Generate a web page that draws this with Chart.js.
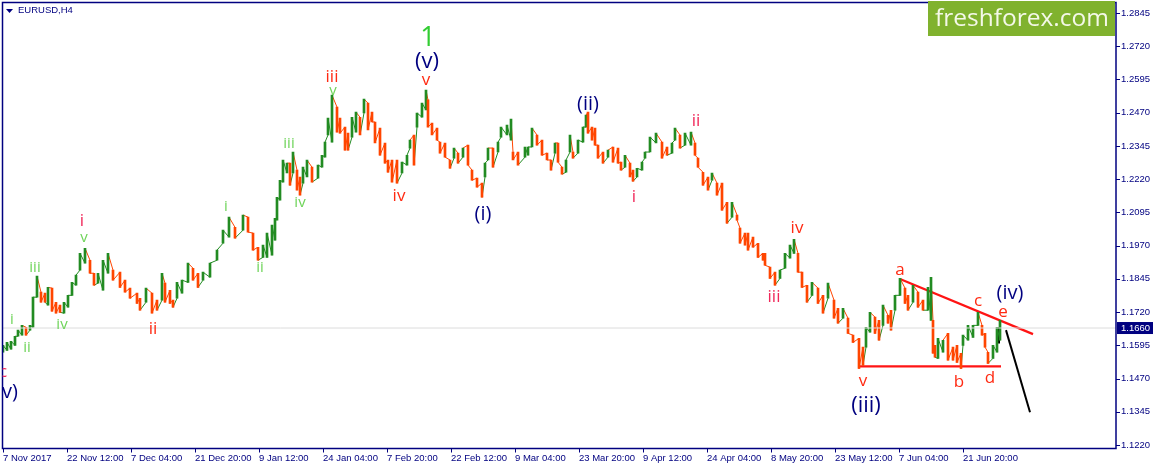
<!DOCTYPE html>
<html>
<head>
<meta charset="utf-8">
<title>EURUSD,H4</title>
<script src="https://cdn.jsdelivr.net/npm/chart.js@4/dist/chart.umd.js"></script>
<style>
  html, body { margin: 0; padding: 0; background: #fff; }
  #wrap { position: relative; width: 1155px; height: 469px; }
</style>
</head>
<body>
<div id="wrap"><canvas id="chart" width="1155" height="469"></canvas></div>
<script>
const priceTicks = [1.2845, 1.2720, 1.2595, 1.2470, 1.2345, 1.2220, 1.2095, 1.1970, 1.1845, 1.1720, 1.1595, 1.1470, 1.1345, 1.1220];
const timeTickBars = [0, 64, 128, 192, 256, 320, 384, 448, 512, 576, 640, 704, 768, 832, 896, 960];
const timeTickLabels = ['7 Nov 2017', '22 Nov 12:00', '7 Dec 04:00', '21 Dec 20:00', '9 Jan 12:00', '24 Jan 04:00', '7 Feb 20:00', '22 Feb 12:00', '9 Mar 04:00', '23 Mar 20:00', '9 Apr 12:00', '24 Apr 04:00', '8 May 20:00', '23 May 12:00', '7 Jun 04:00', '21 Jun 20:00'];

const barIndex = [
  0, 4, 8, 12, 15, 19, 23, 27, 30, 34, 38, 42, 45, 49, 53, 57, 61, 65, 69, 73,
  77, 82, 87, 91, 95, 100, 105, 110, 117, 122, 127, 134, 137, 143, 149, 154, 159, 162, 167, 170,
  174, 179, 185, 190, 195, 200, 207, 214, 220, 226, 232, 240, 245, 250, 255, 260, 264, 269, 272, 274,
  277, 280, 284, 287, 290, 294, 297, 300, 304, 309, 315, 319, 322, 325, 329, 334, 337, 342, 345, 349,
  353, 357, 361, 365, 369, 372, 377, 382, 385, 389, 394, 399, 404, 407, 411, 414, 419, 423, 425, 429,
  434, 437, 442, 447, 451, 455, 460, 465, 469, 474, 479, 482, 485, 490, 495, 498, 504, 508, 510, 515,
  522, 525, 529, 534, 539, 544, 548, 552, 555, 559, 563, 567, 570, 575, 580, 583, 585, 589, 592, 595,
  600, 605, 610, 615, 618, 622, 627, 630, 634, 639, 642, 647, 653, 659, 664, 669, 672, 677, 682, 688,
  692, 695, 700, 705, 709, 714, 719, 724, 729, 734, 737, 742, 745, 750, 755, 760, 762, 767, 772, 777,
  782, 787, 791, 795, 799, 804, 809, 815, 820, 825, 831, 835, 840, 845, 850, 856, 860, 863, 867, 872,
  876, 880, 885, 888, 892, 897, 902, 905, 910, 915, 920, 925, 928, 930, 932, 935, 940, 945, 950, 954,
  958, 960, 965, 970, 975, 979, 982, 985, 990, 994, 997
];
const barHigh = [
  1.1595, 1.1606, 1.1610, 1.1629, 1.1652, 1.1670, 1.1663, 1.1670, 1.1776, 1.1855, 1.1795, 1.1791, 1.1813, 1.1810, 1.1757, 1.1746, 1.1757, 1.1783, 1.1832, 1.1859,
  1.1941, 1.1960, 1.1915, 1.1866, 1.1866, 1.1915, 1.1941, 1.1878, 1.1870, 1.1840, 1.1810, 1.1791, 1.1772, 1.1810, 1.1791, 1.1765, 1.1866, 1.1829, 1.1802, 1.1765,
  1.1832, 1.1840, 1.1904, 1.1885, 1.1866, 1.1870, 1.1904, 1.1953, 1.2028, 1.2077, 1.2039, 1.2085, 1.2077, 1.2017, 1.1964, 1.1972, 1.2017, 1.2047, 1.2073, 1.2152,
  1.2216, 1.2292, 1.2280, 1.2280, 1.2322, 1.2254, 1.2228, 1.2265, 1.2292, 1.2265, 1.2273, 1.2310, 1.2359, 1.2450, 1.2536, 1.2491, 1.2450, 1.2416, 1.2393, 1.2453,
  1.2472, 1.2453, 1.2521, 1.2506, 1.2472, 1.2435, 1.2412, 1.2356, 1.2292, 1.2292, 1.2292, 1.2284, 1.2310, 1.2367, 1.2386, 1.2469, 1.2506, 1.2555, 1.2518, 1.2431,
  1.2412, 1.2359, 1.2356, 1.2292, 1.2337, 1.2318, 1.2337, 1.2348, 1.2254, 1.2224, 1.2205, 1.2280, 1.2337, 1.2337, 1.2359, 1.2416, 1.2423, 1.2446, 1.2322, 1.2322,
  1.2341, 1.2341, 1.2412, 1.2386, 1.2367, 1.2318, 1.2292, 1.2356, 1.2356, 1.2265, 1.2292, 1.2386, 1.2322, 1.2367, 1.2416, 1.2461, 1.2472, 1.2416, 1.2412, 1.2348,
  1.2322, 1.2329, 1.2341, 1.2337, 1.2284, 1.2310, 1.2280, 1.2254, 1.2261, 1.2284, 1.2322, 1.2378, 1.2393, 1.2359, 1.2341, 1.2356, 1.2412, 1.2386, 1.2393, 1.2397,
  1.2356, 1.2299, 1.2246, 1.2228, 1.2243, 1.2205, 1.2205, 1.2133, 1.2133, 1.2085, 1.2036, 1.2017, 1.2017, 1.2002, 1.1979, 1.1941, 1.1941, 1.1889, 1.1870, 1.1878,
  1.1941, 1.1972, 1.1994, 1.1941, 1.1870, 1.1821, 1.1832, 1.1810, 1.1783, 1.1829, 1.1765, 1.1734, 1.1734, 1.1697, 1.1633, 1.1621, 1.1588, 1.1663, 1.1719, 1.1701,
  1.1689, 1.1746, 1.1708, 1.1727, 1.1783, 1.1847, 1.1810, 1.1783, 1.1821, 1.1795, 1.1765, 1.1813, 1.1851, 1.1689, 1.1595, 1.1621, 1.1614, 1.1640, 1.1588, 1.1595,
  1.1565, 1.1633, 1.1670, 1.1670, 1.1719, 1.1670, 1.1640, 1.1569, 1.1595, 1.1663, 1.1689
];
const barLow = [
  1.1569, 1.1576, 1.1580, 1.1595, 1.1629, 1.1633, 1.1633, 1.1652, 1.1663, 1.1776, 1.1757, 1.1757, 1.1746, 1.1723, 1.1716, 1.1719, 1.1716, 1.1738, 1.1783, 1.1821,
  1.1878, 1.1904, 1.1866, 1.1821, 1.1829, 1.1802, 1.1866, 1.1840, 1.1813, 1.1795, 1.1772, 1.1753, 1.1727, 1.1757, 1.1716, 1.1727, 1.1765, 1.1757, 1.1753, 1.1738,
  1.1772, 1.1791, 1.1832, 1.1840, 1.1813, 1.1840, 1.1851, 1.1915, 1.1979, 1.2002, 1.1998, 1.2028, 1.2021, 1.1953, 1.1915, 1.1926, 1.1926, 1.1934, 1.1990, 1.2066,
  1.2141, 1.2209, 1.2243, 1.2197, 1.2243, 1.2179, 1.2160, 1.2205, 1.2228, 1.2209, 1.2224, 1.2265, 1.2303, 1.2386, 1.2359, 1.2397, 1.2393, 1.2329, 1.2329, 1.2378,
  1.2397, 1.2386, 1.2469, 1.2405, 1.2435, 1.2356, 1.2310, 1.2280, 1.2246, 1.2209, 1.2205, 1.2243, 1.2273, 1.2337, 1.2273, 1.2416, 1.2453, 1.2480, 1.2416, 1.2386,
  1.2367, 1.2318, 1.2303, 1.2261, 1.2299, 1.2280, 1.2303, 1.2273, 1.2216, 1.2190, 1.2152, 1.2228, 1.2292, 1.2265, 1.2322, 1.2378, 1.2386, 1.2367, 1.2292, 1.2273,
  1.2303, 1.2310, 1.2341, 1.2348, 1.2310, 1.2292, 1.2254, 1.2318, 1.2284, 1.2239, 1.2246, 1.2322, 1.2299, 1.2318, 1.2359, 1.2416, 1.2393, 1.2367, 1.2348, 1.2299,
  1.2280, 1.2303, 1.2284, 1.2280, 1.2254, 1.2265, 1.2228, 1.2212, 1.2228, 1.2254, 1.2299, 1.2322, 1.2356, 1.2299, 1.2310, 1.2318, 1.2367, 1.2337, 1.2348, 1.2348,
  1.2310, 1.2265, 1.2197, 1.2179, 1.2216, 1.2160, 1.2103, 1.2054, 1.2077, 1.2066, 1.1979, 1.1972, 1.1953, 1.1964, 1.1926, 1.1915, 1.1896, 1.1847, 1.1821, 1.1847,
  1.1885, 1.1923, 1.1941, 1.1870, 1.1813, 1.1757, 1.1783, 1.1753, 1.1716, 1.1772, 1.1697, 1.1678, 1.1697, 1.1640, 1.1606, 1.1508, 1.1520, 1.1588, 1.1644, 1.1640,
  1.1614, 1.1670, 1.1678, 1.1652, 1.1727, 1.1783, 1.1753, 1.1727, 1.1757, 1.1738, 1.1727, 1.1727, 1.1689, 1.1565, 1.1550, 1.1546, 1.1569, 1.1539, 1.1539, 1.1531,
  1.1508, 1.1595, 1.1614, 1.1625, 1.1670, 1.1633, 1.1588, 1.1527, 1.1546, 1.1569, 1.1614
];

const lastPrice = 1.1660;
const lastBarBar = [996, 996];
const lastBarPrice = [1.1663, 1.1602];
const resistanceBars = [897, 1030];
const resistancePrices = [1.1844, 1.1637];
const supportBars = [855, 998];
const supportPrices = [1.1516, 1.1516];
const forecastBars = [1003, 1027];
const forecastPrices = [1.1652, 1.1343];

const waveLabels = [
  ['1', 425, 1.2751, 'top'], ['(v)', 424, 1.2661, 'navyBig'], ['v', 423, 1.2593, 'red'],
  ['iii', 329, 1.2604, 'red'], ['v', 330, 1.2551, 'green'], ['(ii)', 585, 1.2502, 'navy'],
  ['ii', 693, 1.2438, 'pink'], ['iii', 286, 1.2352, 'green'], ['iv', 297, 1.2130, 'green'],
  ['i', 223, 1.2118, 'green'], ['i', 79, 1.2062, 'pink'], ['v', 81, 1.1998, 'green'],
  ['iii', 32, 1.1885, 'green'], ['i', 9, 1.1693, 'green'], ['ii', 24, 1.1584, 'green'],
  ['iv', 59, 1.1674, 'green'], ['ii', 150, 1.1655, 'red'], ['ii', 257, 1.1885, 'green'],
  ['iv', 396, 1.2156, 'red'], ['(i)', 480, 1.2088, 'navy'], ['i', 631, 1.2152, 'pink'],
  ['iv', 794, 1.2036, 'red'], ['iii', 771, 1.1776, 'pink'], ['a', 897, 1.1877, 'red'],
  ['c', 975, 1.1761, 'red'], ['e', 1000, 1.1719, 'red'], ['(iv)', 1007, 1.1791, 'navy'],
  ['b', 956, 1.1456, 'red'], ['d', 987, 1.1471, 'red'], ['v', 860, 1.1460, 'red'],
  ['(iii)', 863, 1.1369, 'navyBig'], ['c', 0, 1.1493, 'pink'], ['(v)', 4, 1.1418, 'navy']
];

const navy = '#000080';
const upColor = '#228B22';
const downColor = '#FF4500';
const tickFont = '"Liberation Sans", sans-serif';
const labelFont = '"Open Sans", sans-serif';
const waveStyles = {
  top: { color: '#32CD32', size: 27 },
  navyBig: { color: '#000080', size: 22 },
  navy: { color: '#000080', size: 20 },
  red: { color: '#FF2A12', size: 17 },
  pink: { color: '#F0285A', size: 17 },
  green: { color: '#6FD45A', size: 15 }
};

function segment(xs, ys) {
  return xs.map((x, i) => ({ x: x, y: ys[i] }));
}

function isUp(i) {
  if (i === 0) return true;
  return barHigh[i] + barLow[i] >= barHigh[i - 1] + barLow[i - 1];
}

// rising bars run low to high, falling bars high to low, so the trace joins up
const priceTrace = [];
barIndex.forEach((bar, i) => {
  if (isUp(i)) {
    priceTrace.push({ x: bar, y: barLow[i], up: true }, { x: bar, y: barHigh[i], up: true });
  } else {
    priceTrace.push({ x: bar, y: barHigh[i], up: false }, { x: bar, y: barLow[i], up: false });
  }
});

const lineDataset = (data, color, width) => ({
  type: 'line', data: data, borderColor: color, borderWidth: width,
  pointRadius: 0, tension: 0, fill: false
});

const decorations = {
  id: 'decorations',
  afterDraw(chart) {
    const { ctx, chartArea, scales } = chart;
    ctx.save();

    // frame
    ctx.strokeStyle = navy;
    ctx.lineWidth = 1.5;
    ctx.strokeRect(chartArea.left, chartArea.top, chartArea.width, chartArea.height);

    // tick marks
    ctx.lineWidth = 1;
    ctx.beginPath();
    timeTickBars.forEach(v => {
      const x = Math.round(scales.x.getPixelForValue(v)) + 0.5;
      ctx.moveTo(x, chartArea.bottom);
      ctx.lineTo(x, chartArea.bottom + 4);
    });
    priceTicks.forEach(v => {
      const y = Math.round(scales.y.getPixelForValue(v)) + 0.5;
      ctx.moveTo(chartArea.right, y);
      ctx.lineTo(chartArea.right + 4, y);
    });
    ctx.stroke();

    // wave counts
    ctx.save();
    ctx.beginPath();
    ctx.rect(chartArea.left, chartArea.top, chartArea.width, chartArea.height);
    ctx.clip();
    ctx.textAlign = 'center';
    ctx.textBaseline = 'middle';
    waveLabels.forEach(([text, bar, price, kind]) => {
      const style = waveStyles[kind];
      ctx.fillStyle = style.color;
      ctx.font = style.size + 'px ' + labelFont;
      ctx.fillText(text, scales.x.getPixelForValue(bar), scales.y.getPixelForValue(price));
    });
    ctx.restore();

    // symbol caption
    ctx.fillStyle = navy;
    ctx.beginPath();
    ctx.moveTo(6, 9);
    ctx.lineTo(13, 9);
    ctx.lineTo(9.5, 13);
    ctx.fill();
    ctx.font = '9.5px ' + tickFont;
    ctx.textAlign = 'left';
    ctx.textBaseline = 'middle';
    ctx.fillText('EURUSD,H4', 18, 10.5);

    // last price box
    const py = scales.y.getPixelForValue(lastPrice);
    ctx.fillStyle = navy;
    ctx.fillRect(chartArea.right + 1, py - 6, 36, 12);
    ctx.fillStyle = '#fff';
    ctx.fillText(lastPrice.toFixed(4), chartArea.right + 5, py + 0.5);

    // site badge
    ctx.fillStyle = '#80B22E';
    ctx.fillRect(928, 1, 187, 35);
    ctx.fillStyle = '#F4F8E8';
    ctx.font = '24.5px ' + labelFont;
    ctx.textAlign = 'center';
    ctx.fillText('freshforex.com', 1022, 19);
    ctx.restore();
  }
};

new Chart(document.getElementById('chart'), {
  data: {
    datasets: [
      lineDataset(segment([-1, 1113], [lastPrice, lastPrice]), '#DCDCDC', 1),
      {
        type: 'bar',
        data: barIndex.map((bar, i) => ({ x: bar, y: [barLow[i], barHigh[i]] })),
        backgroundColor: ctx => (isUp(ctx.dataIndex) ? upColor : downColor),
        barThickness: 2,
        borderWidth: 0
      },
      {
        type: 'line',
        data: priceTrace,
        borderWidth: 1,
        pointRadius: 0,
        tension: 0,
        fill: false,
        borderColor: upColor,
        segment: { borderColor: ctx => (priceTrace[ctx.p1DataIndex].up ? upColor : downColor) }
      },
      lineDataset(segment(lastBarBar, lastBarPrice), '#000000', 2),
      lineDataset(segment(resistanceBars, resistancePrices), '#FF1414', 2.2),
      lineDataset(segment(supportBars, supportPrices), '#FF1414', 2.2),
      lineDataset(segment(forecastBars, forecastPrices), '#000000', 2)
    ]
  },
  options: {
    responsive: false,
    animation: false,
    events: [],
    layout: { padding: { left: 2.5, top: 2.5, right: 0, bottom: 0 } },
    plugins: { legend: { display: false }, tooltip: { enabled: false } },
    scales: {
      x: {
        type: 'linear',
        offset: false,
        min: -0.5,
        max: 1113,
        grid: { display: false, drawTicks: false },
        border: { display: false },
        afterBuildTicks(axis) { axis.ticks = timeTickBars.map(v => ({ value: v })); },
        afterFit(axis) {
          axis.height = 20.5;
          axis.paddingLeft = 0;
          axis.paddingRight = 0;
        },
        ticks: {
          autoSkip: false,
          maxRotation: 0,
          align: 'start',
          padding: 4,
          color: navy,
          font: { family: tickFont, size: 9.5 },
          callback: v => timeTickLabels[timeTickBars.indexOf(v)]
        }
      },
      y: {
        position: 'right',
        min: 1.12068,
        max: 1.28845,
        grid: { display: false, drawTicks: false },
        border: { display: false },
        afterBuildTicks(axis) { axis.ticks = priceTicks.map(v => ({ value: v })); },
        afterFit(axis) {
          axis.width = 39;
          axis.paddingTop = 0;
          axis.paddingBottom = 0;
        },
        ticks: {
          autoSkip: false,
          padding: 5,
          color: navy,
          font: { family: tickFont, size: 9.5 },
          callback: v => v.toFixed(4)
        }
      }
    }
  },
  plugins: [decorations]
});
</script>
</body>
</html>
